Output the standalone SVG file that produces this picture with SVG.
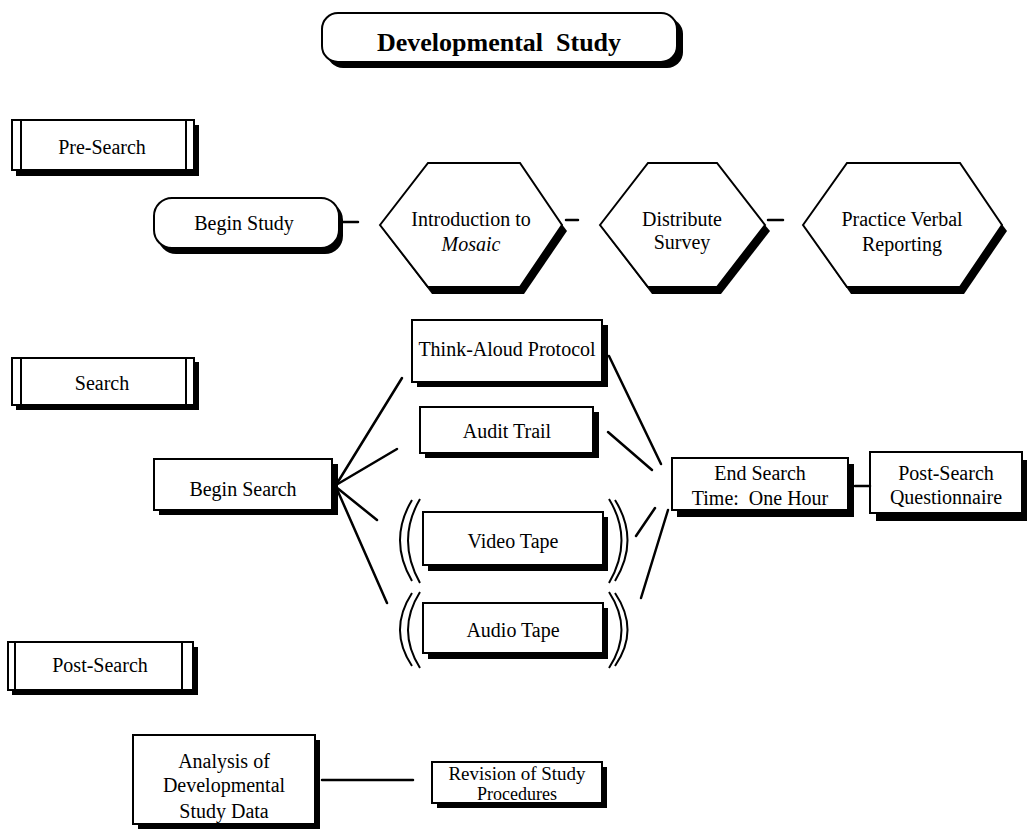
<svg xmlns="http://www.w3.org/2000/svg" width="1027" height="829" viewBox="0 0 1027 829">
<style>
.t{font-family:"Liberation Serif","Times New Roman",serif;font-size:20px;fill:#000;text-anchor:middle}
.b{fill:#fff;stroke:#000;stroke-width:2}
.s{fill:#000;stroke:none}
.c{stroke:#000;stroke-width:2.5;fill:none;stroke-linecap:round}
.p{stroke:#000;stroke-width:2;fill:none}
</style>
<rect width="1027" height="829" fill="#fff"/>

<g id="title">
<rect class="s" x="327" y="18" width="356" height="50" rx="16"/>
<rect class="b" x="322" y="13" width="355" height="49" rx="16"/>
<text class="t" x="499" y="51" style="font-size:26px;font-weight:bold" xml:space="preserve">Developmental  Study</text>
</g>

<g id="pre-search">
<rect class="s" x="16" y="125" width="183" height="51"/>
<rect class="b" x="12" y="120" width="182" height="50"/>
<line class="p" x1="21" y1="120" x2="21" y2="170"/>
<line class="p" x1="186" y1="120" x2="186" y2="170"/>
<text class="t" x="102" y="154">Pre-Search</text>
</g>

<g id="begin-study">
<rect class="s" x="158" y="202" width="185" height="52" rx="18"/>
<rect class="b" x="154" y="198" width="185" height="50" rx="18"/>
<text class="t" x="244" y="230">Begin Study</text>
</g>

<g id="intro">
<polygon class="s" points="384,231 428,168 520,168 567,231 524,294 432,294"/>
<polygon class="b" points="380,225 428,163 520,163 562,225 520,287 428,287"/>
<text class="t" x="471" y="226">Introduction to</text>
<text class="t" x="471" y="251" font-style="italic">Mosaic</text>
</g>

<g id="distribute">
<polygon class="s" points="604,231 648,168 717,168 770,231 721,294 652,294"/>
<polygon class="b" points="600,225 648,163 717,163 765,225 717,287 648,287"/>
<text class="t" x="682" y="226">Distribute</text>
<text class="t" x="682" y="249">Survey</text>
</g>

<g id="practice">
<polygon class="s" points="807,231 847,168 960,168 1007,231 964,294 851,294"/>
<polygon class="b" points="803,225 847,163 960,163 1002,225 960,287 847,287"/>
<text class="t" x="902" y="226">Practice Verbal</text>
<text class="t" x="902" y="251">Reporting</text>
</g>

<g id="search">
<rect class="s" x="16" y="362" width="183" height="48"/>
<rect class="b" x="12" y="358" width="182" height="47"/>
<line class="p" x1="21" y1="358" x2="21" y2="405"/>
<line class="p" x1="186" y1="358" x2="186" y2="405"/>
<text class="t" x="102" y="390">Search</text>
</g>

<g id="think-aloud">
<rect class="s" x="417" y="325" width="191" height="62"/>
<rect class="b" x="412" y="320" width="190" height="62"/>
<text class="t" x="507" y="356">Think-Aloud Protocol</text>
</g>

<g id="audit-trail">
<rect class="s" x="425" y="412" width="174" height="46"/>
<rect class="b" x="420" y="407" width="173" height="46"/>
<text class="t" x="507" y="438">Audit Trail</text>
</g>

<g id="begin-search">
<rect class="s" x="159" y="464" width="179" height="51"/>
<rect class="b" x="154" y="459" width="178" height="51"/>
<text class="t" x="243" y="496">Begin Search</text>
</g>

<g id="video-tape">
<rect class="s" x="428" y="517" width="180" height="54"/>
<rect class="b" x="423" y="512" width="180" height="53"/>
<path class="p" d="M412,500 Q388,540 412,581"/>
<path class="p" d="M420,499 Q396,540 420,583"/>
<path class="p" d="M615,500 Q640,540 615,581"/>
<path class="p" d="M609,499 Q634,540 609,583"/>
<text class="t" x="513" y="548">Video Tape</text>
</g>

<g id="audio-tape">
<rect class="s" x="428" y="608" width="180" height="51"/>
<rect class="b" x="423" y="603" width="180" height="50"/>
<path class="p" d="M412,593 Q388,630 412,666"/>
<path class="p" d="M420,592 Q396,630 420,668"/>
<path class="p" d="M615,593 Q640,630 615,666"/>
<path class="p" d="M609,592 Q634,630 609,668"/>
<text class="t" x="513" y="637">Audio Tape</text>
</g>

<g id="end-search">
<rect class="s" x="677" y="464" width="177" height="53"/>
<rect class="b" x="672" y="458" width="176" height="52"/>
<text class="t" x="760" y="480">End Search</text>
<text class="t" x="760" y="505" xml:space="preserve">Time:  One Hour</text>
</g>

<g id="questionnaire">
<rect class="s" x="876" y="460" width="151" height="61"/>
<rect class="b" x="870" y="452" width="152" height="61"/>
<text class="t" x="946" y="480">Post-Search</text>
<text class="t" x="946" y="504">Questionnaire</text>
</g>

<g id="post-search">
<rect class="s" x="12" y="647" width="186" height="48"/>
<rect class="b" x="8" y="642" width="185" height="48"/>
<line class="p" x1="15" y1="642" x2="15" y2="690"/>
<line class="p" x1="182" y1="642" x2="182" y2="690"/>
<text class="t" x="100" y="672">Post-Search</text>
</g>

<g id="analysis">
<rect class="s" x="138" y="740" width="182" height="89"/>
<rect class="b" x="133" y="735" width="182" height="89"/>
<text class="t" x="224" y="768">Analysis of</text>
<text class="t" x="224" y="792">Developmental</text>
<text class="t" x="224" y="818">Study Data</text>
</g>

<g id="revision">
<rect class="s" x="437" y="767" width="170" height="41"/>
<rect class="b" x="432" y="762" width="170" height="41"/>
<text class="t" x="517" y="780" style="font-size:19px">Revision of Study</text>
<text class="t" x="517" y="800" style="font-size:18px">Procedures</text>
</g>

<g id="connectors">
<line class="c" x1="342" y1="222" x2="358" y2="222"/>
<line class="c" x1="566" y1="220" x2="578" y2="220"/>
<line class="c" x1="768" y1="220" x2="783" y2="220"/>
<line class="c" x1="336" y1="485" x2="402" y2="378"/>
<line class="c" x1="336" y1="485" x2="397" y2="449"/>
<line class="c" x1="336" y1="487" x2="377" y2="520"/>
<line class="c" x1="336" y1="487" x2="387" y2="603"/>
<line class="c" x1="609" y1="356" x2="661" y2="464"/>
<line class="c" x1="608" y1="432" x2="652" y2="470"/>
<line class="c" x1="636" y1="536" x2="655" y2="508"/>
<line class="c" x1="641" y1="598" x2="668" y2="510"/>
<line class="c" x1="855" y1="486" x2="870" y2="486"/>
<line class="c" x1="322" y1="780" x2="413" y2="780"/>
</g>
</svg>
